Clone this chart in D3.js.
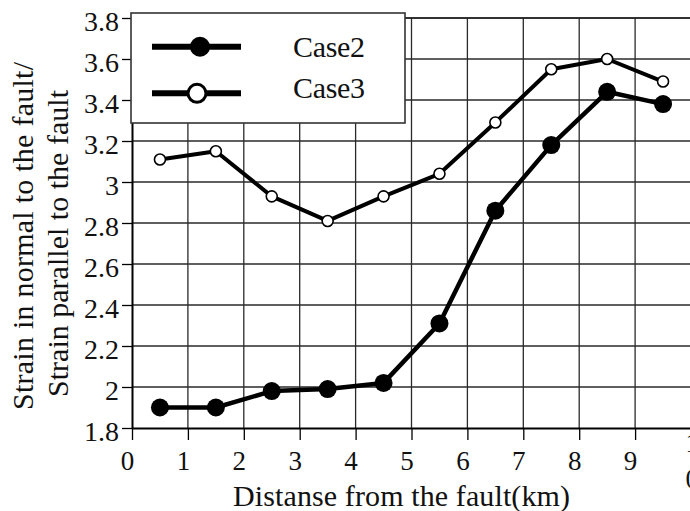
<!DOCTYPE html>
<html>
<head>
<meta charset="utf-8">
<script src="https://cdn.jsdelivr.net/npm/d3@7/dist/d3.min.js"></script>
<style>
  html, body { margin: 0; padding: 0; background: #fff; overflow: hidden; }
  svg { display: block; }
  text { font-family: "Liberation Serif", "Times New Roman", serif; fill: #111; }
</style>
</head>
<body>
<svg id="chart" width="690" height="511"></svg>
<script>
// Distance from the fault (km) at which strain ratios were sampled
const distance = [0.5, 1.5, 2.5, 3.5, 4.5, 5.5, 6.5, 7.5, 8.5, 9.5];
// Strain normal to the fault / strain parallel to the fault
const case2 = [1.90, 1.90, 1.98, 1.99, 2.02, 2.31, 2.86, 3.18, 3.44, 3.38];
const case3 = [3.11, 3.15, 2.93, 2.81, 2.93, 3.04, 3.29, 3.55, 3.60, 3.49];
const seriesNames = ["Case2", "Case3"];

const xTicks = [0, 1, 2, 3, 4, 5, 6, 7, 8, 9, 10];
const yTicks = [1.8, 2.0, 2.2, 2.4, 2.6, 2.8, 3.0, 3.2, 3.4, 3.6, 3.8];
const yTickLabels = ["1.8", "2", "2.2", "2.4", "2.6", "2.8", "3", "3.2", "3.4", "3.6", "3.8"];

const xTitle = "Distanse from the fault(km)";
const yTitle = ["Strain in normal to the fault/", "Strain parallel to the fault"];

const serif = "'Liberation Serif', 'Times New Roman', serif";

const svg = d3.select("#chart");
svg.append("rect").attr("width", 690).attr("height", 511).attr("fill", "#fff");

const x = d3.scaleLinear().domain([0, 10]).range([132, 691]);
const y = d3.scaleLinear().domain([1.8, 3.8]).range([428, 18]);

// grid
const grid = svg.append("g").attr("stroke", "#2a2a2a").attr("stroke-width", 1.3);
grid.selectAll("line.v").data(xTicks.filter(d => d > 0 && d < 10)).join("line")
  .attr("x1", d => x(d)).attr("x2", d => x(d))
  .attr("y1", y(3.8)).attr("y2", y(1.8));
grid.selectAll("line.h").data(yTicks.filter(d => d > 1.8)).join("line")
  .attr("x1", x(0)).attr("x2", x(10))
  .attr("y1", d => y(d)).attr("y2", d => y(d));

// axes
const xAxis = svg.append("g")
  .attr("transform", `translate(0,${y(1.8)})`)
  .call(d3.axisBottom(x).tickValues(xTicks).tickSize(12).tickPadding(4).tickSizeOuter(0)
    .tickFormat(d3.format("d")))
  .attr("font-family", serif);
xAxis.select(".domain").attr("stroke", "#000").attr("stroke-width", 2);
xAxis.selectAll(".tick line").attr("stroke", "#000").attr("stroke-width", 1.3);
xAxis.selectAll(".tick text")
  .attr("font-family", serif).attr("font-size", 27).attr("x", -5).attr("y", 42).attr("dy", 0)
  .attr("fill", "#111");
// the last label wraps onto two lines at the edge
xAxis.selectAll(".tick text").filter(d => d === 10).each(function(d) {
  const t = d3.select(this).text(null).attr("text-anchor", "start").attr("y", 0);
  const s = String(d);
  t.append("tspan").attr("x", -6).attr("y", 24).text(s[0]);
  t.append("tspan").attr("x", -6).attr("y", 60).text(s.slice(1));
});

const yAxis = svg.append("g")
  .attr("transform", `translate(${x(0)},0)`)
  .call(d3.axisLeft(y).tickValues(yTicks).tickSize(10).tickPadding(3).tickSizeOuter(0)
    .tickFormat((d, i) => yTickLabels[i]))
  .attr("font-family", serif);
yAxis.select(".domain").attr("stroke", "#000").attr("stroke-width", 2);
yAxis.selectAll(".tick line").attr("stroke", "#000").attr("stroke-width", 1.3);
yAxis.selectAll(".tick text")
  .attr("font-family", serif).attr("font-size", 28).attr("dy", "0.45em").attr("fill", "#111");

// top border of the plot
svg.append("line")
  .attr("x1", x(0)).attr("x2", x(10)).attr("y1", y(3.8)).attr("y2", y(3.8))
  .attr("stroke", "#222").attr("stroke-width", 1.5);

// series lines
const line = d3.line().x((d, i) => x(distance[i])).y(d => y(d));
svg.append("path").datum(case3).attr("d", line)
  .attr("fill", "none").attr("stroke", "#000").attr("stroke-width", 4).attr("stroke-linejoin", "round");
svg.append("path").datum(case2).attr("d", line)
  .attr("fill", "none").attr("stroke", "#000").attr("stroke-width", 4.5).attr("stroke-linejoin", "round");

svg.append("g").selectAll("circle").data(case3).join("circle")
  .attr("cx", (d, i) => x(distance[i])).attr("cy", d => y(d)).attr("r", 5.5)
  .attr("fill", "#fff").attr("stroke", "#000").attr("stroke-width", 1.6);
svg.append("g").selectAll("circle").data(case2).join("circle")
  .attr("cx", (d, i) => x(distance[i])).attr("cy", d => y(d)).attr("r", 9)
  .attr("fill", "#000");

// legend
const legend = svg.append("g");
legend.append("rect")
  .attr("x", 131).attr("y", 13).attr("width", 274).attr("height", 110)
  .attr("fill", "#fff").attr("stroke", "#333").attr("stroke-width", 1.6);
const legendRows = [
  { name: seriesNames[0], cy: 46.7, cx: 200, filled: true, base: 57 },
  { name: seriesNames[1], cy: 93.3, cx: 197, filled: false, base: 98 }
];
legendRows.forEach(r => {
  legend.append("line").attr("x1", 152).attr("x2", 241).attr("y1", r.cy).attr("y2", r.cy)
    .attr("stroke", "#000").attr("stroke-width", 6);
  legend.append("circle").attr("cx", r.cx).attr("cy", r.cy).attr("r", r.filled ? 10 : 9)
    .attr("fill", r.filled ? "#000" : "#fff").attr("stroke", "#000").attr("stroke-width", r.filled ? 0 : 3);
  legend.append("text").attr("x", 293).attr("y", r.base).attr("font-size", 30)
    .attr("textLength", 72).attr("lengthAdjust", "spacing").text(r.name);
});

// axis titles
svg.append("text").attr("x", 233).attr("y", 506).attr("font-size", 30)
  .attr("textLength", 337).attr("lengthAdjust", "spacing").text(xTitle);
svg.append("text").attr("transform", "translate(33,410) rotate(-90)").attr("font-size", 30)
  .attr("textLength", 348).attr("lengthAdjust", "spacing").text(yTitle[0]);
svg.append("text").attr("transform", "translate(68,397) rotate(-90)").attr("font-size", 30)
  .attr("textLength", 307).attr("lengthAdjust", "spacing").text(yTitle[1]);
</script>
</body>
</html>
